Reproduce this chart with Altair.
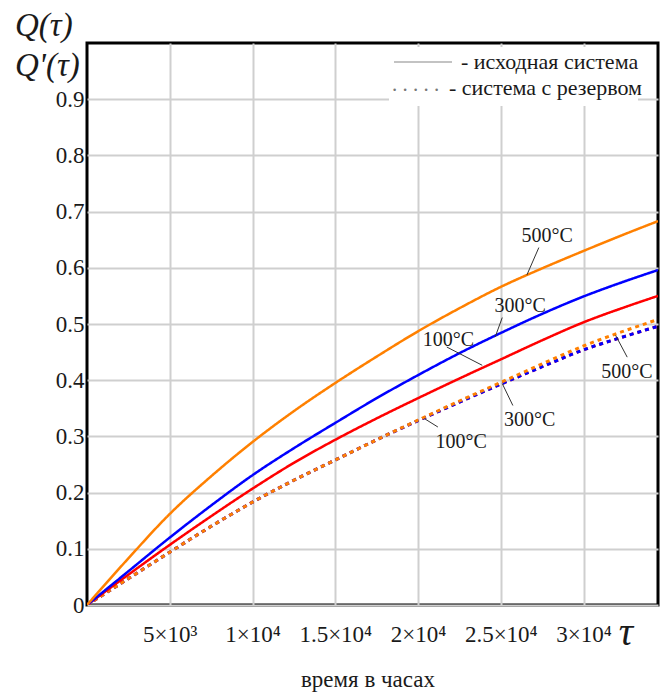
import altair as alt
import pandas as pd

# ---- data ----
tau = [0, 2500, 5000, 7500, 10000, 12500, 15000, 17500, 20000,
       22500, 25000, 27500, 30000, 32500, 34500]
q_base_500 = [0, 0.083, 0.162, 0.229, 0.290, 0.345, 0.395, 0.442, 0.487,
              0.528, 0.566, 0.599, 0.630, 0.660, 0.683]
q_base_300 = [0, 0.060, 0.120, 0.177, 0.231, 0.279, 0.324, 0.368, 0.409,
              0.448, 0.484, 0.518, 0.549, 0.576, 0.596]
q_base_100 = [0, 0.054, 0.107, 0.158, 0.207, 0.253, 0.294, 0.332, 0.368,
              0.403, 0.437, 0.471, 0.503, 0.530, 0.550]
q_res_500 = [0, 0.047, 0.094, 0.140, 0.183, 0.222, 0.258, 0.294, 0.329,
             0.363, 0.396, 0.429, 0.461, 0.488, 0.508]
q_res_300 = [0, 0.047, 0.094, 0.140, 0.183, 0.222, 0.258, 0.294, 0.328,
             0.361, 0.393, 0.424, 0.454, 0.478, 0.496]
q_res_100 = [0, 0.047, 0.094, 0.140, 0.183, 0.222, 0.258, 0.294, 0.328,
             0.361, 0.393, 0.424, 0.454, 0.478, 0.496]

x_ticks = [5000, 10000, 15000, 20000, 25000, 30000]
x_tick_labels = ["5×10³", "1×10⁴", "1.5×10⁴", "2×10⁴", "2.5×10⁴", "3×10⁴"]
y_ticks = [0, 0.1, 0.2, 0.3, 0.4, 0.5, 0.6, 0.7, 0.8, 0.9]

# curve annotations: label text, label position, leader line ends
ann_text = ["500°C", "300°C", "100°C", "500°C", "300°C", "100°C"]
ann_tau = [27800, 26175, 21843, 32620, 26740, 22610]
ann_q = [0.656, 0.532, 0.471, 0.415, 0.330, 0.290]
lead_tau1 = [27300, 25090, 21740, 32640, 25730, 21200]
lead_q1 = [0.636, 0.5115, 0.459, 0.441, 0.355, 0.3167]
lead_tau2 = [26575, 24665, 23880, 31935, 25090, 20390]
lead_q2 = [0.587, 0.477, 0.4265, 0.480, 0.394, 0.3316]

FONT = "Liberation Serif"
TXT = "#1a1a1a"
ORANGE = "#ff8000"
BLUE = "#0000ff"
RED = "#ff0000"

xs = alt.Scale(domain=[0, 34500], nice=False, zero=False)
ys = alt.Scale(domain=[0, 1], nice=False, zero=False)

label_expr_x = "".join(
    f"datum.value == {v} ? '{l}' : " for v, l in zip(x_ticks, x_tick_labels)
) + "''"

x_axis = alt.Axis(values=x_ticks, labelExpr=label_expr_x, grid=True, gridColor="#cfcfcf",
                  gridWidth=2, ticks=False, domain=False, labelFont=FONT, labelFontSize=23,
                  labelColor=TXT, labelPadding=18, title=None, labelFlush=False)
y_axis = alt.Axis(values=y_ticks,
                  labelExpr="datum.value == 0 ? '0' : format(datum.value, '.1f')",
                  grid=True, gridColor="#cfcfcf", gridWidth=2, ticks=False, domain=False,
                  labelFont=FONT, labelFontSize=23, labelColor=TXT, labelPadding=3,
                  title=None, labelFlush=False)

X = lambda f: alt.X(f, scale=xs, axis=x_axis)
Y = lambda f: alt.Y(f, scale=ys, axis=y_axis)


def curve(values, color, dotted):
    df = pd.DataFrame({"tau": tau, "q": values})
    return alt.Chart(df).mark_line(
        color=color,
        strokeWidth=3 if dotted else 2.5,
        strokeDash=[4, 4] if dotted else [1, 0],
        interpolate="monotone",
        clip=True,
    ).encode(x=X("tau:Q"), y=Y("q:Q"))


layers = [
    curve(q_res_100, RED, True),
    curve(q_res_300, BLUE, True),
    curve(q_res_500, ORANGE, True),
    curve(q_base_100, RED, False),
    curve(q_base_300, BLUE, False),
    curve(q_base_500, ORANGE, False),
]

ann = pd.DataFrame({"text": ann_text, "tau": ann_tau, "q": ann_q,
                    "t1": lead_tau1, "q1": lead_q1, "t2": lead_tau2, "q2": lead_q2})
leaders = alt.Chart(ann).mark_rule(color="#333333", strokeWidth=1).encode(
    x=X("t1:Q"), y=Y("q1:Q"), x2="t2:Q", y2="q2:Q")
labels = alt.Chart(ann).mark_text(font=FONT, fontSize=20, color=TXT).encode(
    x=X("tau:Q"), y=Y("q:Q"), text="text:N")

one = pd.DataFrame({"a": [0]})


def ptext(txt, x, y, size, align="left", style="normal", color=TXT):
    return alt.Chart(one).mark_text(font=FONT, fontSize=size, align=align,
                                    baseline="middle", fontStyle=style, color=color).encode(
        x=alt.value(x), y=alt.value(y), text=alt.value(txt))


legend_box = alt.Chart(one).mark_rect(color="white").encode(
    x=alt.value(302), x2=alt.value(551), y=alt.value(4), y2=alt.value(63))
legend_line = alt.Chart(one).mark_rule(color="#888888", strokeWidth=1.2).encode(
    x=alt.value(307), x2=alt.value(365), y=alt.value(19))

extras = [
    legend_box,
    legend_line,
    ptext("- исходная система", 374, 19, 22),
    ptext(". . . . .", 305, 42, 21, color="#777777"),
    ptext("- система с резервом", 362, 45, 22),
    ptext("Q(τ)", -72, -17, 33, style="italic"),
    ptext("Q'(τ)", -72, 23, 33, style="italic"),
    ptext("τ", 539, 590, 40, align="center", style="italic"),
    ptext("время в часах", 281, 637, 23, align="center"),
]

chart = alt.layer(*layers, leaders, labels, *extras).properties(
    width=571, height=562,
    autosize=alt.AutoSizeParams(type="none"),
    padding={"left": 87, "top": 43, "right": 9, "bottom": 88},
    background="white",
).configure_view(stroke="black", strokeWidth=3)

chart.save("out.html", embed_options={"renderer": "svg", "actions": False})
